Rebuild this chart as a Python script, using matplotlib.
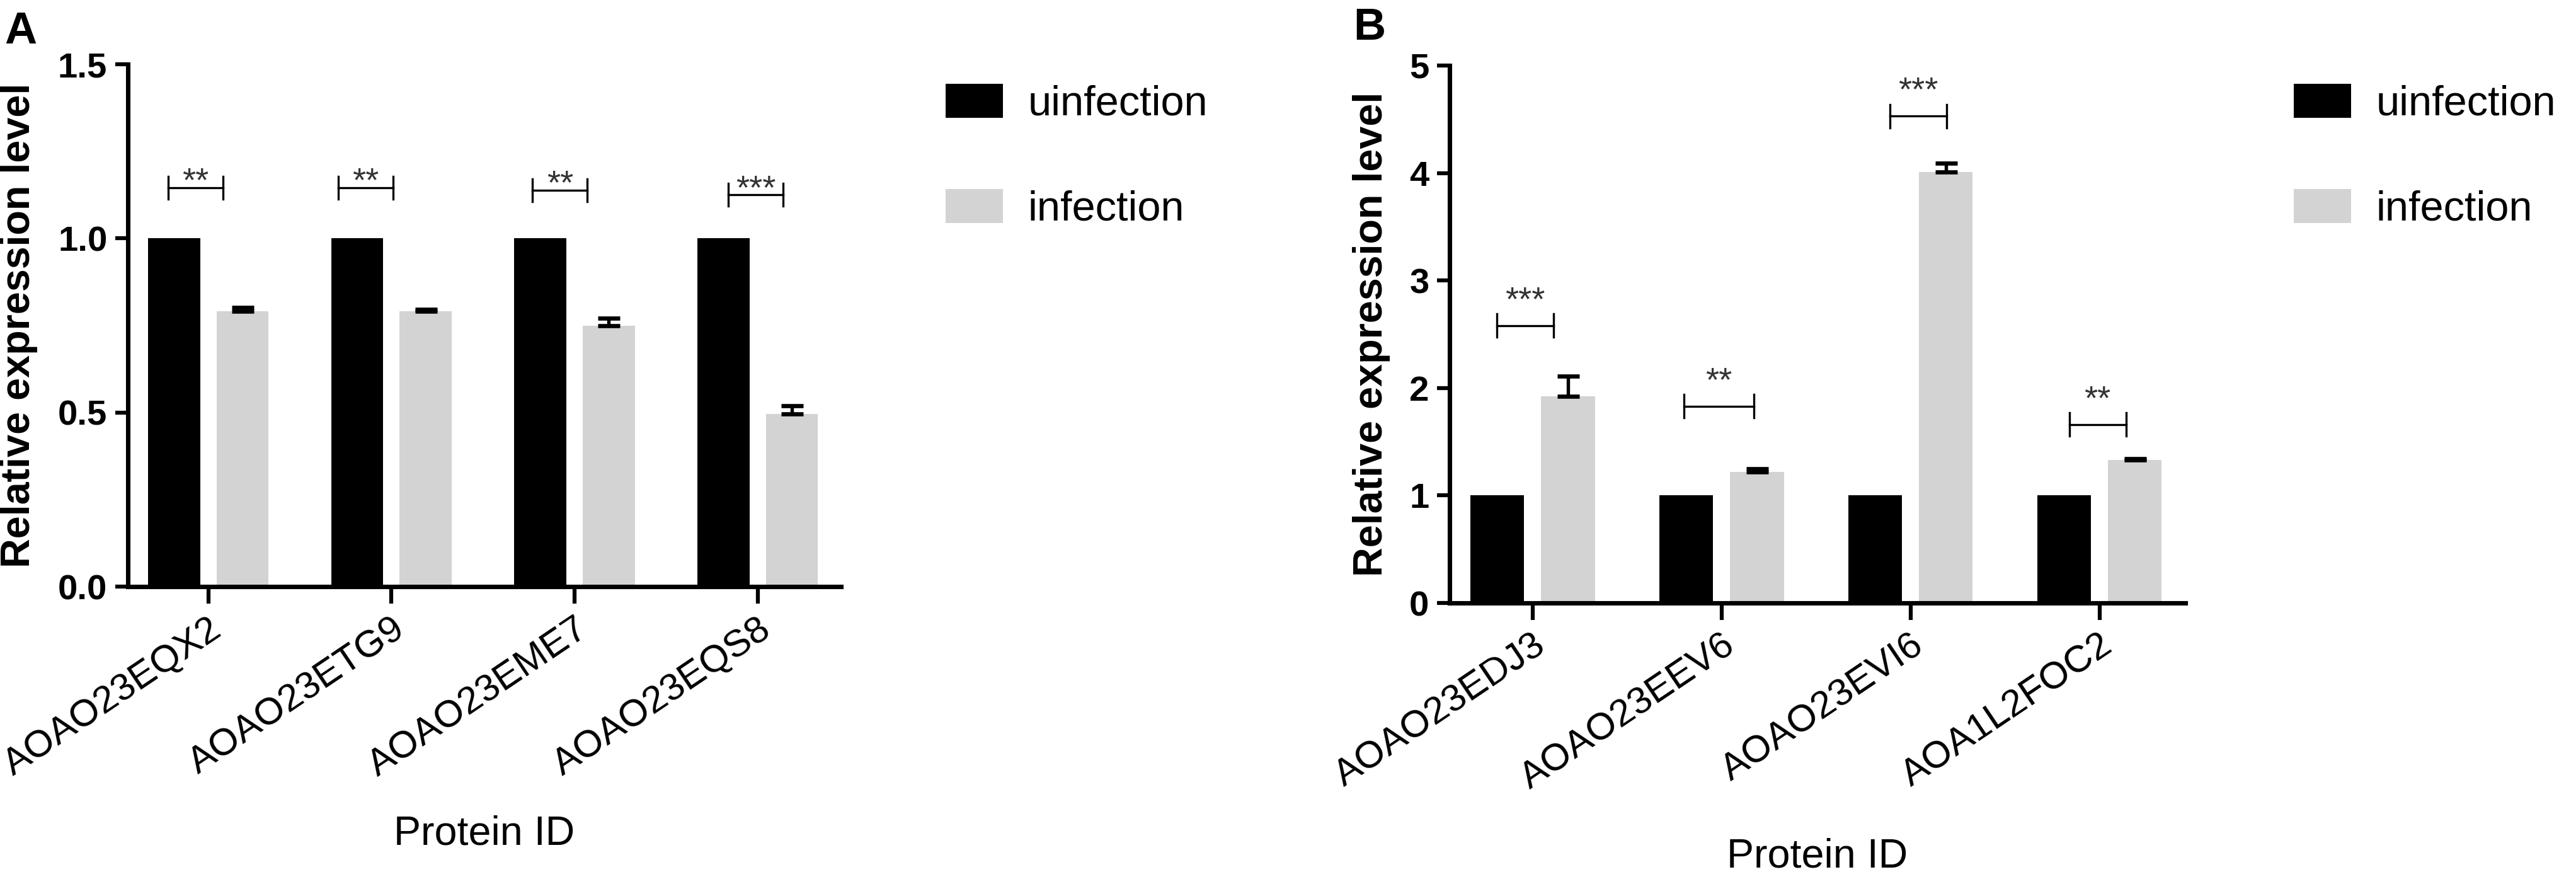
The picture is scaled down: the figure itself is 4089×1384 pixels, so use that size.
import matplotlib.pyplot as plt
import numpy as np
from matplotlib.transforms import ScaledTranslation

plt.rcParams['font.family'] = ['Liberation Sans', 'DejaVu Sans']

series_names = ['uinfection', 'infection']
series_colors = ['#000000', '#d3d3d3']

# panel A
proteins_a = ['AOAO23EQX2', 'AOAO23ETG9', 'AOAO23EME7', 'AOAO23EQS8']
uninfected_a = [1.0, 1.0, 1.0, 1.0]
infected_a = [0.79, 0.79, 0.75, 0.495]
infected_err_a = [0.012, 0.006, 0.02, 0.025]
sig_a = ['**', '**', '**', '***']
bracket_y_a = [1.146, 1.146, 1.139, 1.125]
bracket_span_a = [(-0.22, 0.08), (-0.29, 0.01), (-0.23, 0.07), (-0.16, 0.14)]

# panel B
proteins_b = ['AOAO23EDJ3', 'AOAO23EEV6', 'AOAO23EVI6', 'AOA1L2FOC2']
uninfected_b = [1.0, 1.0, 1.0, 1.0]
infected_b = [1.92, 1.22, 4.01, 1.33]
infected_err_b = [0.19, 0.03, 0.08, 0.01]
sig_b = ['***', '**', '***', '**']
bracket_y_b = [2.58, 1.83, 4.53, 1.66]
bracket_span_b = [(-0.19, 0.11), (-0.2, 0.17), (-0.11, 0.19), (-0.16, 0.14)]


def draw_panel(fig, ax, proteins, base, infected, err, sig, br_y, br_span,
               ymax, yticks, yticklabels, star_dy):
    x = np.arange(len(proteins))
    off = 0.187
    w = 0.285
    ax.bar(x - off, base, w, color=series_colors[0], label=series_names[0], zorder=2)
    ax.bar(x + off, infected, w, color=series_colors[1], label=series_names[1], zorder=2)
    ax.errorbar(x + off, infected, yerr=[np.zeros(len(x)), err], fmt='none',
                ecolor='black', elinewidth=1.3, capsize=4.2, capthick=1.6, zorder=3)

    # significance brackets
    tick_h = 0.0217 * ymax
    for i in range(len(x)):
        x0 = x[i] + br_span[i][0]
        x1 = x[i] + br_span[i][1]
        y = br_y[i]
        ax.plot([x0, x1], [y, y], color='black', lw=0.8, zorder=3)
        ax.plot([x0, x0], [y - tick_h, y + tick_h], color='black', lw=0.8, zorder=3)
        ax.plot([x1, x1], [y - tick_h, y + tick_h], color='black', lw=0.8, zorder=3)
        ax.annotate(sig[i], ((x0 + x1) / 2, y), xytext=(0, star_dy),
                    textcoords='offset points', ha='center', va='baseline',
                    fontsize=13, color='#333333')

    ax.set_xlim(-0.44, len(x) - 1 + 0.454)
    ax.set_ylim(0, ymax)
    ax.set_yticks(yticks, yticklabels, fontsize=13.5, fontweight='bold')
    ax.set_xticks(x, proteins, rotation=34, ha='right', va='top',
                  rotation_mode='anchor', fontsize=14.5)
    shift = ScaledTranslation(0.06, -0.10, fig.dpi_scale_trans)
    for lab in ax.get_xticklabels():
        lab.set_transform(lab.get_transform() + shift)
    for s in ['top', 'right']:
        ax.spines[s].set_visible(False)
    for s in ['left', 'bottom']:
        ax.spines[s].set_linewidth(1.7)
    ax.tick_params(axis='y', direction='out', length=4.8, width=1.5, pad=3)
    ax.tick_params(axis='x', direction='out', length=6.5, width=1.5, pad=3)
    ax.set_ylabel('Relative expression level', fontsize=15.5, fontweight='bold')
    ax.set_xlabel('Protein ID', fontsize=15.5)
    ax.xaxis.set_label_coords(0.5, -0.437)


fig = plt.figure(figsize=(4089 / 300, 1384 / 300), dpi=300)

ax_a = fig.add_axes([0.0496, 0.3273, 0.2768, 0.599])
draw_panel(fig, ax_a, proteins_a, uninfected_a, infected_a, infected_err_a, sig_a,
           bracket_y_a, bracket_span_a, 1.5, [0, 0.5, 1.0, 1.5],
           ['0.0', '0.5', '1.0', '1.5'], -1.4)
ax_a.yaxis.set_label_coords(-0.126, 0.5)

ax_b = fig.add_axes([0.5627, 0.3085, 0.2856, 0.6164])
draw_panel(fig, ax_b, proteins_b, uninfected_b, infected_b, infected_err_b, sig_b,
           bracket_y_b, bracket_span_b, 5, [0, 1, 2, 3, 4, 5],
           ['0', '1', '2', '3', '4', '5'], 6)
ax_b.yaxis.set_label_coords(-0.080, 0.5)

for ax, lx in [(ax_a, 0.3671), (ax_b, 0.8905)]:
    ax.legend(loc='upper left', bbox_to_anchor=(lx, 0.904),
              bbox_transform=fig.transFigure, frameon=False, fontsize=16,
              handlelength=1.36, handleheight=0.87, handletextpad=0.6,
              labelspacing=1.54, borderpad=0, borderaxespad=0)

fig.text(0.0017, 0.987, 'A', fontsize=17, fontweight='bold', va='top', ha='left')
fig.text(0.5253, 0.991, 'B', fontsize=17, fontweight='bold', va='top', ha='left')

fig.savefig('out.png', dpi=300)
